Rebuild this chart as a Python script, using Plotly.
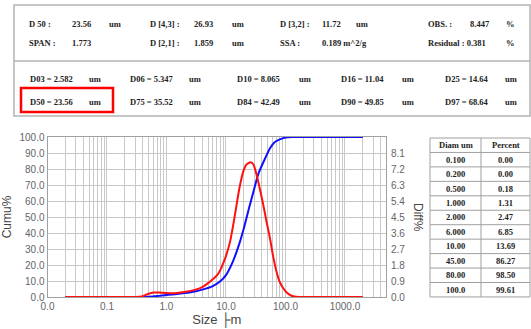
import plotly.graph_objects as go

# ---------------- data ----------------
cum_size = [0.02, 0.1, 0.2, 0.3, 0.5, 0.7, 1.0, 1.5, 2.0, 3.0, 4.0, 6.0, 8.0, 10.0, 13.0, 16.0,
            20.0, 25.0, 30.0, 35.0, 45.0, 55.0, 65.0, 80.0, 100.0, 130.0, 200.0, 500.0, 1000.0, 2000.0]
cum_pct = [0, 0, 0, 0.02, 0.18, 0.6, 1.31, 1.9, 2.47, 3.5, 4.6, 6.85, 9.8, 13.69, 22.0, 31.0,
           43.0, 57.0, 68.0, 77.0, 86.27, 93.0, 96.6, 98.5, 99.61, 100, 100, 100, 100, 100]

diff_size = [0.02, 0.1, 0.2, 0.3, 0.4, 0.5, 0.6, 0.75, 1.0, 1.5, 2.0, 3.0, 4.0, 5.0, 6.0, 7.0,
             8.0, 9.0, 10.0, 11.7, 13.0, 15.1, 17.0, 19.5, 22.0, 26.0, 29.0, 32.8, 37.0, 42.4,
             48.0, 54.9, 62.0, 70.8, 80.0, 91.8, 105.0, 126.0, 150.0, 200.0, 500.0, 1000.0, 2000.0]
diff_pct = [0, 0, 0, 0, 0.05, 0.18, 0.25, 0.25, 0.22, 0.23, 0.28, 0.4, 0.56, 0.78, 1.0, 1.2,
            1.5, 1.9, 2.3, 3.1, 3.9, 5.2, 6.2, 7.05, 7.45, 7.58, 7.45, 6.86, 6.1, 5.18,
            4.25, 3.3, 2.3, 1.42, 0.85, 0.49, 0.25, 0.07, 0.01, 0, 0, 0, 0]

x_tick_vals = [0.01, 0.1, 1, 10, 100, 1000]
x_tick_text = ["0.0", "0.1", "1.0", "10.0", "100.0", "1000.0"]

table_header = ["Diam um", "Percent"]
table_diam = ["0.100", "0.200", "0.500", "1.000", "2.000", "6.000", "10.00", "45.00", "80.00", "100.0"]
table_percent = ["0.00", "0.00", "0.18", "1.31", "2.47", "6.85", "13.69", "86.27", "98.50", "99.61"]

# summary block (label, value, unit)
summary_row1 = [("D 50 :", "23.56", "um"), ("D [4,3] :", "26.93", "um"),
                ("D [3,2] :", "11.72", "um"), ("OBS. :", "8.447", "%")]
summary_row2 = [("SPAN :", "1.773", ""), ("D [2,1] :", "1.859", "um"),
                ("SSA :", "0.189 m^2/g", ""), ("Residual :", "0.381", "%")]
pct_row1 = [("D03", "2.582"), ("D06", "5.347"), ("D10", "8.065"), ("D16", "11.04"), ("D25", "14.64")]
pct_row2 = [("D50", "23.56"), ("D75", "35.52"), ("D84", "42.49"), ("D90", "49.85"), ("D97", "68.64")]

# ---------------- layout helpers ----------------
W, H = 531, 329
def px(x):
    return x / W
def py(y):
    return 1 - y / H

fig = go.Figure()

fig.add_trace(go.Scatter(x=cum_size, y=cum_pct, mode="lines",
                         line=dict(color="#1010ff", width=2, shape="spline", smoothing=0.6),
                         yaxis="y", showlegend=False, hoverinfo="skip"))
fig.add_trace(go.Scatter(x=diff_size, y=diff_pct, mode="lines",
                         line=dict(color="#ff1010", width=2, shape="spline", smoothing=0.6),
                         yaxis="y2", showlegend=False, hoverinfo="skip"))

minor_vals = []
for d in range(-2, 4):
    for k in range(2, 10):
        v = k * 10 ** d
        if v < 4900:
            minor_vals.append(v)

grid_c = "#c8c8c8"
tick_font = dict(family="Liberation Sans", size=10, color="#666")

fig.update_layout(
    width=W, height=H, margin=dict(l=0, r=0, t=0, b=0),
    paper_bgcolor="white", plot_bgcolor="white",
    xaxis=dict(type="log", range=[-2, 3.69], domain=[px(47.5), px(386)],
               tickvals=x_tick_vals, ticktext=x_tick_text, tickfont=tick_font,
               showgrid=True, gridcolor=grid_c, gridwidth=1,
               minor=dict(tickvals=minor_vals, showgrid=True, gridcolor=grid_c, gridwidth=1),
               showline=True, linecolor="#a0a0a0", linewidth=1, mirror=True, ticks="",
               title=dict(text="Size ├m", font=dict(family="Liberation Sans", size=13, color="#444"), standoff=3),
               automargin=False, zeroline=False),
    yaxis=dict(range=[0, 100], domain=[py(297), py(137)], dtick=10, tickformat=".1f", tickfont=tick_font,
               showgrid=True, gridcolor=grid_c, gridwidth=1,
               showline=True, linecolor="#a0a0a0", linewidth=1, mirror=True, ticks="",
               title=dict(text="Cumu%", font=dict(family="Liberation Sans", size=12, color="#444"), standoff=5),
               automargin=False, zeroline=False),
    yaxis2=dict(range=[0, 9], overlaying="y", side="right", anchor="x",
                tickvals=[round(0.9 * i, 1) for i in range(10)], tickformat=".1f", tickfont=tick_font,
                ticklabelstandoff=4,
                showgrid=False, ticks="", showline=False, automargin=False, zeroline=False),
)

# right axis title (reads top to bottom)
fig.add_annotation(text="Diff%", x=px(418), y=py(217), xref="paper", yref="paper", textangle=90,
                   xanchor="center", yanchor="middle",
                   showarrow=False, font=dict(family="Liberation Sans", size=12, color="#444"))

# boxes
box_c = "#b4b4b4"
fig.add_shape(type="rect", xref="paper", yref="paper", x0=px(14), x1=px(530), y0=py(116), y1=py(5),
              line=dict(color=box_c, width=1.5))
fig.add_shape(type="line", xref="paper", yref="paper", x0=px(14), x1=px(530), y0=py(61), y1=py(61),
              line=dict(color=box_c, width=1.5))
fig.add_shape(type="rect", xref="paper", yref="paper", x0=px(21), x1=px(113), y0=py(112), y1=py(88),
              line=dict(color="#ff0000", width=2.5))

info_font = dict(family="Liberation Serif", size=8.5, color="#222")
def txt(s, x, y, anchor="left"):
    fig.add_annotation(text="<b>%s</b>" % s, x=px(x), y=py(y), xref="paper", yref="paper",
                       xanchor=anchor, yanchor="middle", showarrow=False, font=info_font)

# summary rows
lab_x = [27, 148, 278, 426]
val_x = [70, 192, 320, 468]
unit_x = [107, 230, 354, 504]
for row, yy in ((summary_row1, 24), (summary_row2, 43)):
    for i, (lab, val, unit) in enumerate(row):
        if lab == "Residual :":
            txt(lab + " " + val, lab_x[i], yy)
        else:
            txt(lab, lab_x[i], yy)
            txt(val, val_x[i], yy)
        if unit:
            txt(unit, unit_x[i], yy)

pl_x = [28, 128, 235, 339, 443]
pu_x = [87, 187, 297, 400, 503]
for row, yy in ((pct_row1, 79), (pct_row2, 102)):
    for i, (lab, val) in enumerate(row):
        txt("%s = %s" % (lab, val), pl_x[i], yy)
        txt("um", pu_x[i], yy)

# ---------------- table (drawn from the lists) ----------------
t_left, t_mid, t_right, t_top, row_h = 430, 481, 530, 138, 14.45
rows = [table_header] + [[a, b] for a, b in zip(table_diam, table_percent)]
n = len(rows)
tline = dict(color="#a0a0a0", width=1)
for r in range(n + 1):
    yy = t_top + r * row_h
    fig.add_shape(type="line", xref="paper", yref="paper", x0=px(t_left), x1=px(t_right),
                  y0=py(yy), y1=py(yy), line=tline)
for xx in (t_left, t_mid, t_right):
    fig.add_shape(type="line", xref="paper", yref="paper", x0=px(xx), x1=px(xx),
                  y0=py(t_top), y1=py(t_top + n * row_h), line=tline)
for r, (a, b) in enumerate(rows):
    yc = t_top + (r + 0.5) * row_h
    txt(a, (t_left + t_mid) / 2, yc, anchor="center")
    txt(b, (t_mid + t_right) / 2, yc, anchor="center")

fig.write_html("out.html", post_script="document.body.style.margin='0px';",
               config={"displayModeBar": False})
